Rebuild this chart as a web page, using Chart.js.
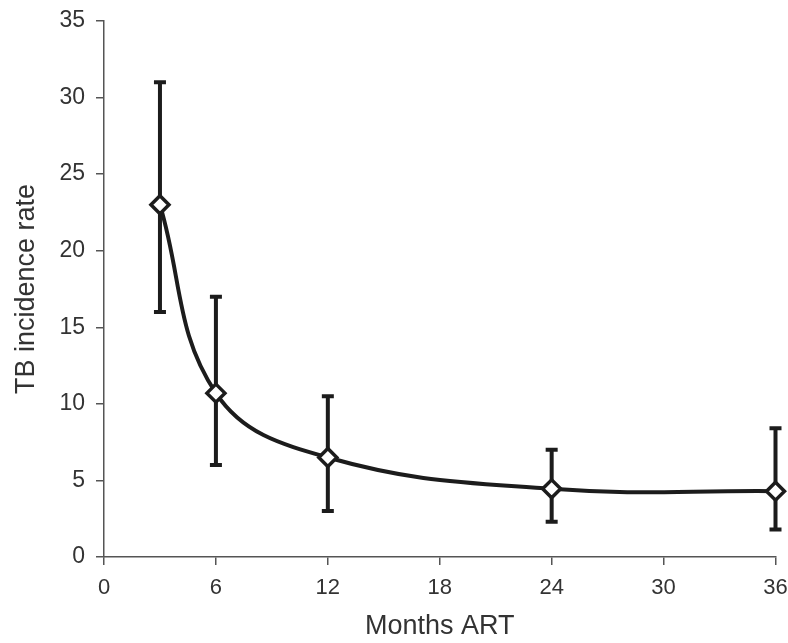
<!DOCTYPE html>
<html>
<head>
<meta charset="utf-8">
<script src="https://cdn.jsdelivr.net/npm/chart.js@4/dist/chart.umd.min.js"></script>
<style>
  html, body { margin: 0; padding: 0; background: #fff; }
  #wrap { width: 788px; height: 643px; }
</style>
</head>
<body>
<div id="wrap"><canvas id="tb-chart"></canvas></div>
<script>
// Data
const months = [3, 6, 12, 24, 36];
const incidence = [23.0, 10.7, 6.5, 4.45, 4.3];
const lowerCI = [16.0, 6.0, 3.0, 2.3, 1.8];
const upperCI = [31.0, 17.0, 10.5, 7.0, 8.4];
const xTicks = [0, 6, 12, 18, 24, 30, 36];
const yTicks = [0, 5, 10, 15, 20, 25, 30, 35];

const ink = '#1c1c1c';
const axisColor = '#555';
const textColor = '#333';

// Draws vertical error bars with flat caps under the markers
const errorBars = {
	id: 'errorBars',
	beforeDatasetsDraw(chart) {
		const { ctx, scales: { x, y } } = chart;
		ctx.save();
		ctx.strokeStyle = ink;
		ctx.lineWidth = 4;
		ctx.lineCap = 'butt';
		months.forEach((m, i) => {
			const px = x.getPixelForValue(m);
			const top = y.getPixelForValue(upperCI[i]);
			const bot = y.getPixelForValue(lowerCI[i]);
			ctx.beginPath();
			ctx.moveTo(px, top);
			ctx.lineTo(px, bot);
			ctx.moveTo(px - 6, top);
			ctx.lineTo(px + 6, top);
			ctx.moveTo(px - 6, bot);
			ctx.lineTo(px + 6, bot);
			ctx.stroke();
		});
		ctx.restore();
	}
};

// Fix the plot box so label overflow does not shrink it
function fixBox(size) {
	return scale => {
		if (scale.isHorizontal()) scale.height = size;
		else scale.width = size;
		scale.paddingTop = 0;
		scale.paddingBottom = 0;
		scale.paddingLeft = 0;
		scale.paddingRight = 0;
	};
}

new Chart(document.getElementById('tb-chart'), {
	type: 'line',
	data: {
		datasets: [{
			label: 'TB incidence rate',
			data: months.map((m, i) => ({ x: m, y: incidence[i] })),
			borderColor: ink,
			borderWidth: 4,
			tension: 0.4,
			pointStyle: 'rectRot',
			pointRadius: 9,
			pointBorderWidth: 3.5,
			pointBackgroundColor: '#fff',
			pointBorderColor: ink,
			clip: false,
			fill: false
		}]
	},
	options: {
		responsive: true,
		maintainAspectRatio: false,
		animation: false,
		layout: {
			padding: { top: 21, right: 12, left: 0, bottom: 0 }
		},
		plugins: {
			legend: { display: false },
			tooltip: { enabled: false }
		},
		scales: {
			x: {
				type: 'linear',
				min: 0,
				max: 36,
				afterBuildTicks: scale => { scale.ticks = xTicks.map(v => ({ value: v })); },
				afterFit: fixBox(86),
				border: { color: axisColor, width: 1.5 },
				grid: { drawOnChartArea: false, color: axisColor, lineWidth: 1.5, tickLength: 8 },
				ticks: {
					color: textColor,
					padding: 10,
					maxRotation: 0,
					font: { family: 'Liberation Sans', size: 22 }
				},
				title: {
					display: true,
					text: 'Months ART',
					color: textColor,
					padding: { top: 0, bottom: 0 },
					font: { family: 'Liberation Sans', size: 27 }
				}
			},
			y: {
				type: 'linear',
				min: 0,
				max: 35,
				afterBuildTicks: scale => { scale.ticks = yTicks.map(v => ({ value: v })); },
				afterFit: fixBox(104),
				border: { color: axisColor, width: 1.5 },
				grid: { drawOnChartArea: false, color: axisColor, lineWidth: 1.5, tickLength: 8 },
				ticks: {
					color: textColor,
					padding: 11,
					font: { family: 'Liberation Sans', size: 23 }
				},
				title: {
					display: true,
					text: 'TB incidence rate',
					color: textColor,
					padding: { top: 10, bottom: 0 },
					font: { family: 'Liberation Sans', size: 27 }
				}
			}
		}
	},
	plugins: [errorBars]
});
</script>
</body>
</html>
